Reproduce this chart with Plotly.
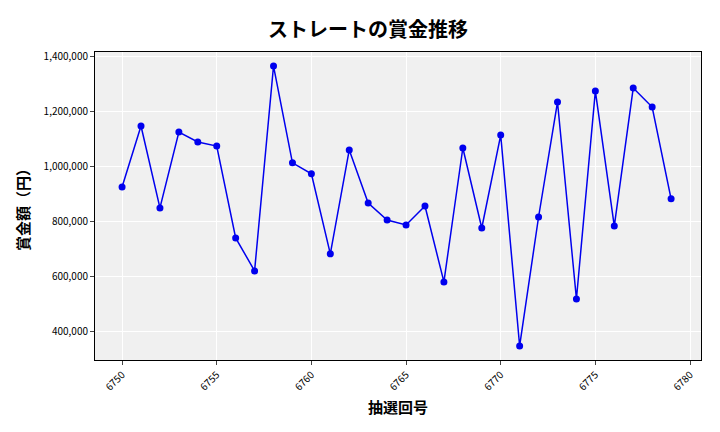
import plotly.graph_objects as go

draws = list(range(6750, 6780))
prizes = [927000, 1149000, 851000, 1127000, 1091000, 1076000, 742000, 622000, 1367000, 1015000,
          975000, 684000, 1062000, 869000, 807000, 789000, 858000, 582000, 1069000, 778000,
          1116000, 349000, 818000, 1236000, 520000, 1276000, 785000, 1287000, 1218000, 884000]

font = "Noto Sans CJK JP"
fig = go.Figure(go.Scatter(x=draws, y=prizes, mode="lines+markers",
                           line=dict(color="#0000ee", width=1.5),
                           marker=dict(color="#0000ee", size=7)))
fig.update_layout(
    width=720, height=432, margin=dict(l=87, r=27, t=44, b=80),
    paper_bgcolor="white", plot_bgcolor="#f0f0f0", showlegend=False,
    font=dict(family=font, color="black"),
    title=dict(text="<b>ストレートの賞金推移</b>", x=0.5, xanchor="center", y=0.965,
               font=dict(size=20, family=font)),
)
fig.update_xaxes(range=[6748.57, 6780.58], tickvals=list(range(6750, 6781, 5)),
                 tickangle=-45, tickfont=dict(size=10), showgrid=True, gridcolor="white",
                 showline=True, linecolor="black", mirror=True, ticks="outside", ticklen=4,
                 zeroline=False, automargin=False,
                 title=dict(text="<b>抽選回号</b>", font=dict(size=15), standoff=10))
fig.update_yaxes(range=[298000, 1418000], tickvals=[400000, 600000, 800000, 1000000, 1200000, 1400000],
                 tickformat=",d", tickfont=dict(size=10), showgrid=True, gridcolor="white",
                 showline=True, linecolor="black", mirror=True, ticks="outside", ticklen=4,
                 zeroline=False, automargin=False,
                 title=dict(text="<b>賞金額（円）</b>", font=dict(size=15), standoff=10))
fig.write_html("out.html")
